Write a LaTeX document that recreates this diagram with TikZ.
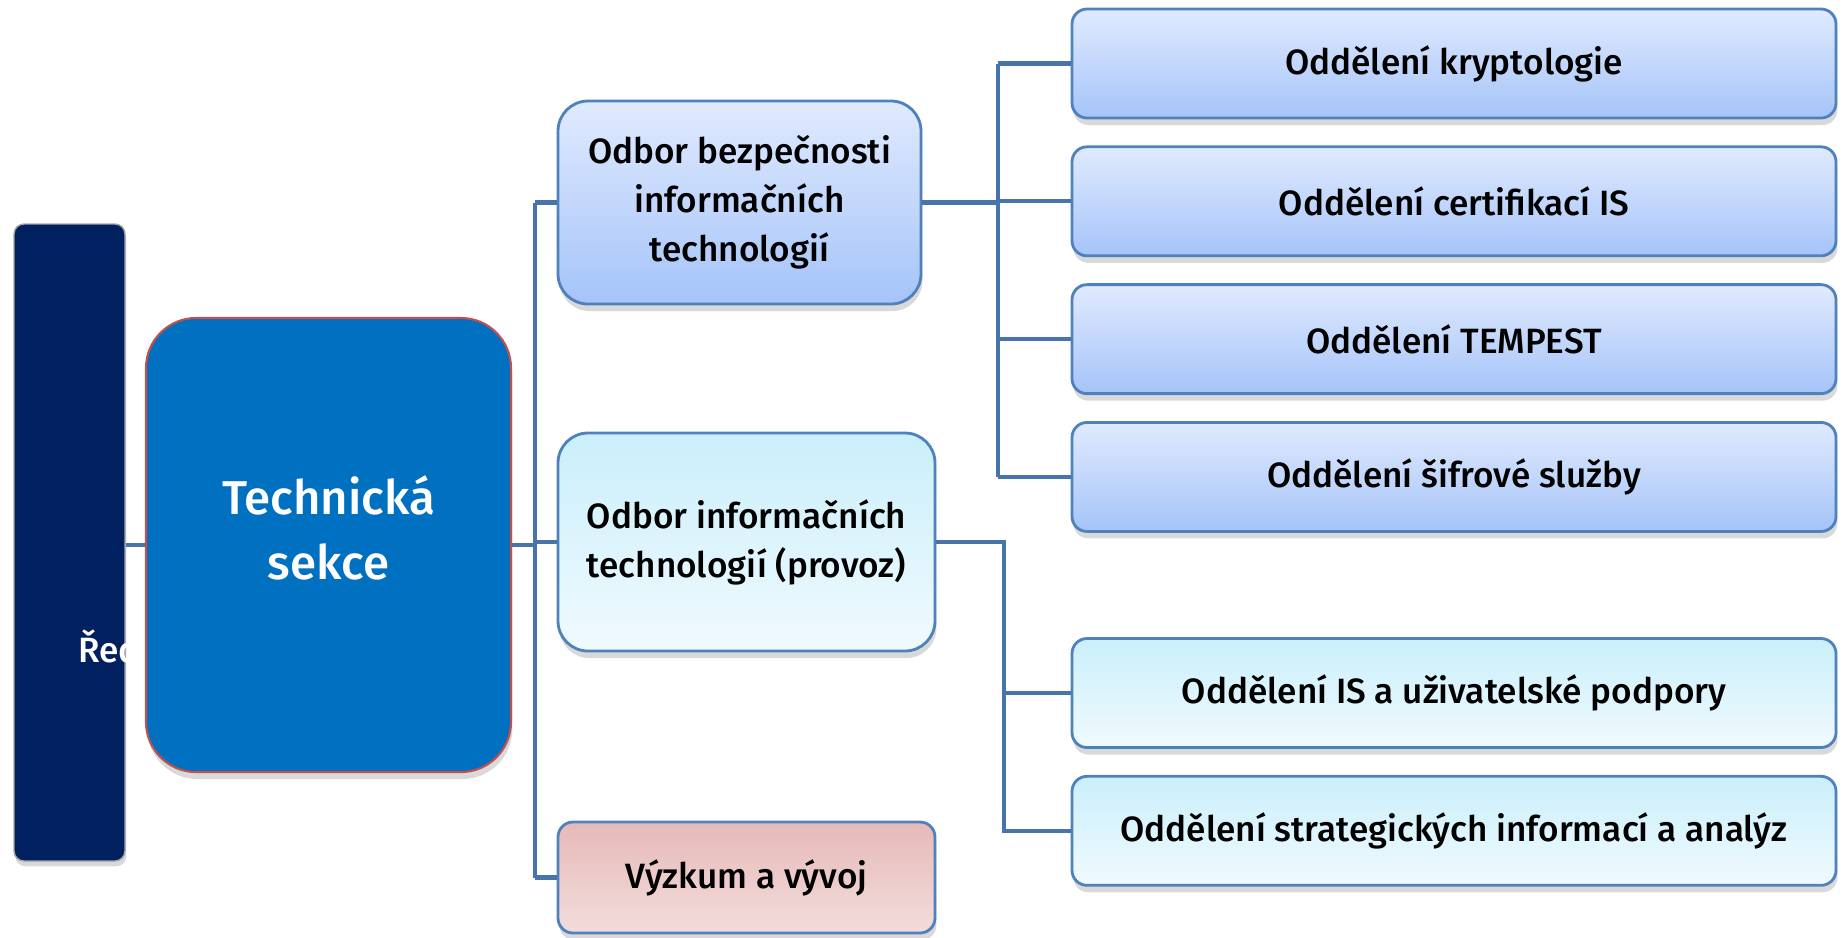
\documentclass[tikz,border=0pt]{standalone}
\usepackage{fontspec}
\setmainfont{Fira Sans}
\newfontfamily\medfont{Fira Sans Medium}
\usepackage{tikz}
\usetikzlibrary{positioning,shadows}

\definecolor{navy}{RGB}{0,32,96}
\definecolor{techblue}{RGB}{0,112,192}
\definecolor{techedge}{RGB}{192,80,77}
\definecolor{edgeblue}{RGB}{79,129,189}
\definecolor{linkblue}{RGB}{72,116,172}
\definecolor{bluetop}{RGB}{224,234,254}
\definecolor{bluebot}{RGB}{165,196,249}
\definecolor{cyantop}{RGB}{202,239,251}
\definecolor{cyanbot}{RGB}{240,250,254}
\definecolor{rosetop}{RGB}{230,185,184}
\definecolor{rosebot}{RGB}{242,221,220}

\begin{document}
\begin{tikzpicture}[
    node distance=0.26cm,
    every node/.style={font=\medfont\fontsize{10}{13.9}\selectfont},
    box/.style={draw=edgeblue, line width=0.8pt, rounded corners=0.15cm, align=center,
        drop shadow={opacity=0.3, shadow xshift=0.4pt, shadow yshift=-2pt}},
    deptbox/.style={box, minimum width=7.64cm, minimum height=1.09cm},
    bluefill/.style={top color=bluetop, bottom color=bluebot},
    cyanfill/.style={top color=cyantop, bottom color=cyanbot},
    rosefill/.style={top color=rosetop, bottom color=rosebot},
    dirbox/.style={draw=gray!70, fill=navy, rounded corners=0.1cm, minimum width=1.11cm, minimum height=6.37cm,
        drop shadow={opacity=0.3, shadow xshift=0.4pt, shadow yshift=-1.5pt}},
    techbox/.style={draw=techedge, fill=techblue, line width=0.6pt, rounded corners=0.5cm,
        minimum width=3.65cm, minimum height=4.54cm,
        drop shadow={opacity=0.3, shadow xshift=0.4pt, shadow yshift=-2pt}},
    techtext/.style={text=white, align=center, font={\medfont\fontsize{13.5}{18.5}\selectfont}},
    link/.style={draw=linkblue, line width=1.2pt}
]
\useasboundingbox (0,0) rectangle (18.45,-9.37);

\node[dirbox] (dir) at (0.695,-5.425) {};
\node[text=white, anchor=base west] (dirtext) at (0.66,-6.62) {Ředitel};
\node[techbox] (tech) at (3.285,-5.45) {};
\node[techtext] (techlbl) at (3.285,-5.28) {Technická\\sekce};

\node[box, bluefill, rounded corners=0.3cm, minimum width=3.63cm, minimum height=2.03cm] (bezp) at (7.395,-2.025) {Odbor bezpečnosti\\informačních\\technologií};
\node[box, cyanfill, rounded corners=0.3cm, minimum width=3.77cm, minimum height=2.18cm] (info) at (7.465,-5.42) {Odbor informačních\\technologií (provoz)};
\node[box, rosefill, minimum width=3.77cm, minimum height=1.11cm] (vyvoj) at (7.465,-8.775) {Výzkum a vývoj};

\node[deptbox, bluefill] (krypto) at (14.54,-0.635) {Oddělení kryptologie};
\node[deptbox, bluefill] (cert) [below=of krypto] {Oddělení certifikací IS};
\node[deptbox, bluefill] (tempest) [below=of cert] {Oddělení TEMPEST};
\node[deptbox, bluefill] (sifry) [below=of tempest] {Oddělení šifrové služby};
\node[deptbox, cyanfill] (podpora) at (14.54,-6.93) {Oddělení IS a uživatelské podpory};
\node[deptbox, cyanfill] (analyzy) [below=of podpora] {Oddělení strategických informací a analýz};

\coordinate (trunk) at (5.35,0);
\coordinate (fork1) at (9.98,0);
\coordinate (fork2) at (10.04,0);

\draw[link] (dir.east |- tech.west) -- (tech.west);
\draw[link] (tech.east) -- (tech.east -| trunk);
\draw[link] (trunk |- bezp) -- (trunk |- vyvoj);
\foreach \n in {bezp,info,vyvoj}
    \draw[link] (trunk |- \n) -- (\n.west);
\draw[link] (bezp.east) -- (bezp.east -| fork1);
\draw[link] (fork1 |- krypto) -- (fork1 |- sifry);
\foreach \n in {krypto,cert,tempest,sifry}
    \draw[link] (fork1 |- \n) -- (\n.west);
\draw[link] (info.east) -- (info.east -| fork2) -- (fork2 |- analyzy) -- (analyzy.west);
\draw[link] (fork2 |- podpora) -- (podpora.west);
\end{tikzpicture}
\end{document}
